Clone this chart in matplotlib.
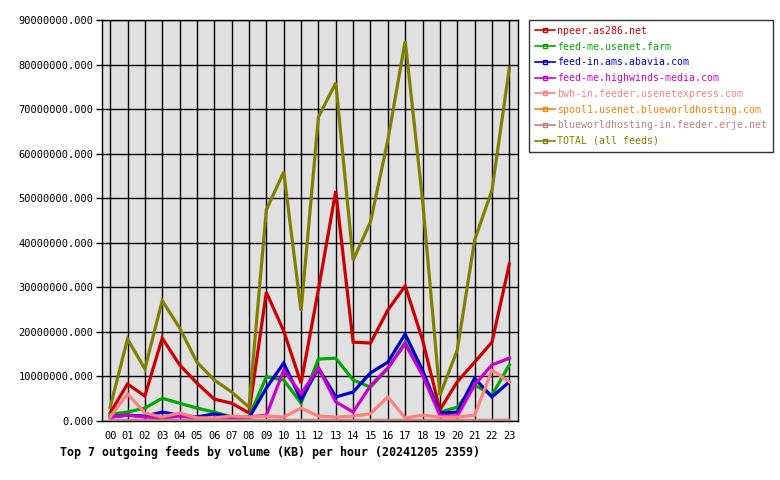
import matplotlib
matplotlib.use("Agg")
import matplotlib.pyplot as plt
from matplotlib.lines import Line2D
from matplotlib.ticker import FuncFormatter

hours = ["%02d" % h for h in range(24)]

npeer = [1.8, 8.3, 5.6, 18.6, 12.6, 8.5, 4.9, 4.0, 1.8, 28.9, 20.2, 8.5,
         29.5, 51.6, 17.7, 17.5, 24.9, 30.3, 18.2, 2.5, 8.8, 13.2, 17.7, 35.2]
usenet_farm = [1.5, 2.0, 2.9, 5.1, 4.0, 2.9, 2.0, 0.9, 0.9, 9.9, 9.2, 4.0,
               13.9, 14.1, 9.2, 7.6, 11.8, 17.7, 10.3, 2.0, 3.1, 8.1, 5.8, 12.6]
abavia = [0.9, 1.3, 1.1, 2.0, 1.3, 0.9, 1.6, 0.9, 0.7, 7.4, 13.0, 4.7,
          11.9, 5.4, 6.5, 10.8, 13.2, 19.5, 11.4, 1.8, 2.0, 9.6, 5.4, 8.8]
highwinds = [0.9, 1.3, 0.9, 0.7, 1.1, 0.7, 0.5, 0.5, 0.9, 1.3, 11.4, 6.1,
             11.9, 4.3, 2.0, 7.9, 11.9, 17.3, 10.3, 1.3, 1.1, 8.1, 12.6, 14.1]
usenetexpress = [0.9, 6.1, 1.8, 0.9, 1.8, 0.7, 0.7, 1.1, 0.9, 1.1, 0.9, 2.9,
                 1.1, 0.9, 1.1, 1.6, 5.4, 0.7, 1.3, 0.9, 0.9, 1.3, 11.4, 8.8]
spool1 = [0.2] * 24
erje = [0.2] * 24
total = [3.1, 18.4, 11.7, 27.0, 20.9, 13.2, 9.2, 6.5, 3.1, 47.4, 55.9, 24.7,
         68.2, 75.9, 36.1, 44.7, 63.0, 85.3, 49.6, 5.8, 15.9, 40.6, 51.8, 79.2]

series = [
    ("npeer.as286.net", npeer, "#cc0000"),
    ("feed-me.usenet.farm", usenet_farm, "#00aa00"),
    ("feed-in.ams.abavia.com", abavia, "#0000cc"),
    ("feed-me.highwinds-media.com", highwinds, "#cc00cc"),
    ("bwh-in.feeder.usenetexpress.com", usenetexpress, "#ff8080"),
    ("spool1.usenet.blueworldhosting.com", spool1, "#ff8000"),
    ("blueworldhosting-in.feeder.erje.net", erje, "#c08080"),
    ("TOTAL (all feeds)", total, "#808000"),
]

mono = ["DejaVu Sans Mono"]
fig = plt.figure(figsize=(7.8, 4.8), dpi=100)
ax = fig.add_axes([102 / 780, 1 - 421 / 480, 416 / 780, 401 / 480])
ax.set_facecolor("#e0e0e0")

x = list(range(24))
for name, vals, col in series:
    ax.plot(x, [v * 1e6 for v in vals], color=col, lw=2.3, solid_joinstyle="miter", zorder=3)

ax.set_xlim(-0.47, 23.5)
ax.set_ylim(0, 90e6)
ax.set_xticks(x)
ax.set_xticklabels(hours, family=mono, fontsize=7.5)
ax.set_yticks([i * 1e7 for i in range(10)])
ax.yaxis.set_major_formatter(FuncFormatter(lambda v, p: "%.3f" % v))
for lab in ax.get_yticklabels():
    lab.set_family(mono)
    lab.set_fontsize(7.5)
ax.tick_params(axis="y", length=4, width=1, color="black", pad=2)
ax.tick_params(axis="x", length=0, pad=7)
ax.grid(True, color="black", lw=1, zorder=1)
ax.set_axisbelow(True)
for s in ax.spines.values():
    s.set_color("black")
    s.set_linewidth(1)

handles = [Line2D([0], [0], color=col, lw=1.2, marker="s", markersize=2.5,
                  markerfacecolor="none", markeredgecolor=col) for _, _, col in series]
leg = fig.legend(handles, [s[0] for s in series], loc="upper left",
                 bbox_to_anchor=(529 / 780, 1 - 20 / 480), frameon=True, fancybox=False,
                 edgecolor="black", prop={"family": mono, "size": 7.1},
                 labelcolor="linecolor", handlelength=2.0, handletextpad=0.25,
                 borderpad=0.6, labelspacing=0.58, borderaxespad=0)
leg.get_frame().set_linewidth(1)

fig.text(60 / 780, 1 - 452 / 480, "Top 7 outgoing feeds by volume (KB) per hour (20241205 2359)",
         family=mono, weight="bold", fontsize=8.4, va="center", ha="left")

fig.savefig("out.png", dpi=100)
